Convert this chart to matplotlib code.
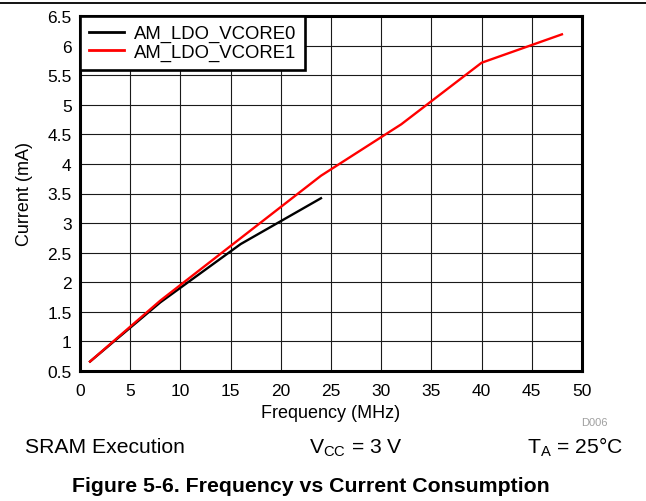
import matplotlib
matplotlib.use("Agg")
import matplotlib.pyplot as plt
from matplotlib.lines import Line2D

plt.rcParams['font.family'] = ['Liberation Sans', 'DejaVu Sans']
plt.rcParams['mathtext.fontset'] = 'custom'
plt.rcParams['mathtext.rm'] = 'Liberation Sans'

freq0 = [1, 8, 16, 24]
cur0 = [0.66, 1.66, 2.645, 3.42]
freq1 = [1, 8, 16, 24, 32, 40, 48]
cur1 = [0.66, 1.69, 2.745, 3.80, 4.67, 5.71, 6.19]
labels = ["AM_LDO_VCORE0", "AM_LDO_VCORE1"]
xticks = [0, 5, 10, 15, 20, 25, 30, 35, 40, 45, 50]
yticks = [0.5, 1, 1.5, 2, 2.5, 3, 3.5, 4, 4.5, 5, 5.5, 6, 6.5]

W, H = 646, 502
fig = plt.figure(figsize=(W/100, H/100), dpi=100)
x0, x1, y0, y1 = 80, 582, 372, 17
ax = fig.add_axes([x0/W, 1-y0/H, (x1-x0)/W, (y0-y1)/H])

ax.plot(freq0, cur0, color='black', lw=1.7, label=labels[0], zorder=3)
ax.plot(freq1, cur1, color='#ff0000', lw=1.7, label=labels[1], zorder=3)

ax.set_xlim(0, 50)
ax.set_ylim(0.5, 6.5)
ax.set_xticks(xticks)
ax.set_yticks(yticks)
ax.set_xticklabels([f"{v:g}" for v in xticks])
ax.set_yticklabels([f"{v:g}" for v in yticks])
ax.tick_params(length=0, labelsize=12.5)
ax.tick_params(axis='x', pad=8.5)
ax.tick_params(axis='y', pad=6)
ax.grid(True, color='#1a1a1a', lw=0.8)
ax.set_axisbelow(True)
for s in ax.spines.values():
    s.set_linewidth(2.2)
    s.set_color('black')

ax.set_xlabel("Frequency (MHz)", fontsize=13)
ax.set_ylabel("Current (mA)", fontsize=13)
ax.xaxis.set_label_coords((331 - x0)/(x1 - x0), -(414 - y0)/(y0 - y1))
ax.xaxis.label.set_va('center')
ax.yaxis.set_label_coords(-(x0 - 24.5)/(x1 - x0), 0.5)
ax.yaxis.label.set_va('center')

leg = ax.legend(loc='upper left', fontsize=13.3, frameon=True, fancybox=False,
                borderaxespad=0, handlelength=1.9, handletextpad=0.5,
                borderpad=0.5, labelspacing=0.08)
leg.get_frame().set_edgecolor('black')
leg.get_frame().set_linewidth(1.9)
leg.get_frame().set_alpha(1)
for h in leg.get_lines():
    h.set_linewidth(2)

fig.add_artist(Line2D([0, 1], [1-4/H, 1-4/H], color='black', lw=1.3))

fig.text(594/W, 1-423/H, "D006", fontsize=8, color='#a0a0a0', ha='center', va='center')
fig.text(25/W, 1-453.5/H, "SRAM Execution", fontsize=15.2, ha='left', va='baseline')
fig.text(356/W, 1-453.5/H, r"V$_{\mathrm{CC}}$ = 3 V", fontsize=15.2, ha='center', va='baseline')
fig.text(623/W, 1-453.5/H, r"T$_{\mathrm{A}}$ = 25°C", fontsize=15.2, ha='right', va='baseline')
fig.text(310.5/W, 1-492/H, "Figure 5-6. Frequency vs Current Consumption", fontsize=15.3,
         fontweight='bold', ha='center', va='baseline')

fig.savefig("out.png", dpi=100)
